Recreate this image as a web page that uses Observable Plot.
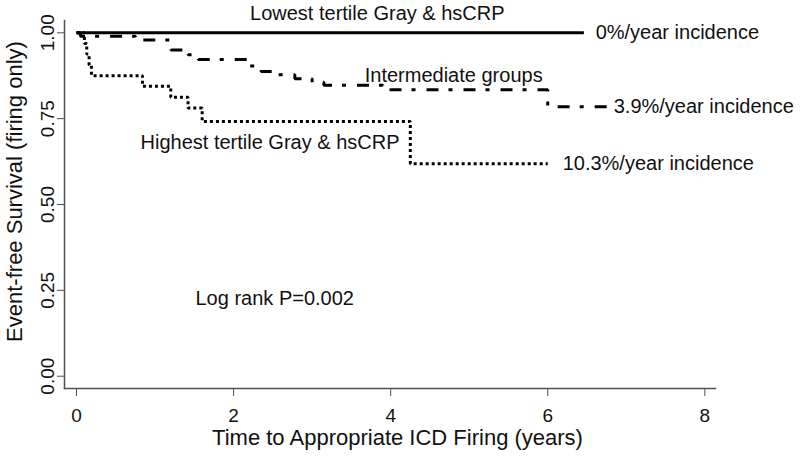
<!DOCTYPE html>
<html>
<head>
<meta charset="utf-8">
<script src="https://cdn.jsdelivr.net/npm/d3@7"></script>
<script src="https://cdn.jsdelivr.net/npm/@observablehq/plot@0.6"></script>
<style>
  html, body { margin: 0; padding: 0; background: #fff; }
  #chart svg { display: block; }
</style>
</head>
<body>
<div id="chart"></div>
<script>
// ---- Data ----
const groups = ["Lowest tertile", "Intermediate", "Highest tertile"];

const lowTime = [0, 6.46];
const lowSurv = [1, 1];

const midTime = [0, 0.05, 0.75, 1.2, 1.42, 1.55, 2.2, 2.35, 2.52, 2.78, 3.0, 3.15, 3.9, 6.0, 6.79];
const midSurv = [1, 0.99, 0.979, 0.95, 0.936, 0.922, 0.903, 0.887, 0.878, 0.866, 0.856, 0.847, 0.834, 0.785, 0.785];

const highTime = [0, 0.10, 0.13, 0.16, 0.19, 0.84, 1.20, 1.42, 1.60, 4.25, 6.0];
const highSurv = [1, 0.969, 0.938, 0.906, 0.875, 0.844, 0.812, 0.781, 0.742, 0.619, 0.619];

const xTicks = [0, 2, 4, 6, 8];
const yTicks = [0, 0.25, 0.5, 0.75, 1];

const annoText = [
  "Lowest tertile Gray & hsCRP",
  "0%/year incidence",
  "Intermediate groups",
  "3.9%/year incidence",
  "Highest tertile Gray & hsCRP",
  "10.3%/year incidence",
  "Log rank P=0.002"
];
const annoTime = [3.83, 6.61, 3.67, 6.84, 0.815, 6.19, 1.515];
const annoSurv = [1.056, 1.0, 0.876, 0.785, 0.68, 0.619, 0.227];
const annoAlign = ["middle", "start", "start", "start", "start", "start", "start"];

const xTitle = "Time to Appropriate ICD Firing (years)";
const yTitle = "Event-free Survival (firing only)";

// ---- Tables ----
const toRows = (g, T, S) => T.map((t, i) => ({group: g, t, s: S[i]}));
const low = toRows(groups[0], lowTime, lowSurv);
const mid = toRows(groups[1], midTime, midSurv);
const high = toRows(groups[2], highTime, highSurv);
const annos = annoText.map((text, i) => ({text, t: annoTime[i], s: annoSurv[i], a: annoAlign[i]}));

const axisGray = "#505050";
const ink = "#111";

const chart = Plot.plot({
  width: 800,
  height: 456,
  marginLeft: 64,
  marginRight: 85,
  marginTop: 20,
  marginBottom: 68,
  style: {fontFamily: "'Liberation Sans', Arial, sans-serif", fontSize: "19px", color: ink, background: "#fff"},
  x: {domain: [-0.153, 8.136]},
  y: {domain: [-0.0358, 1.0358]},
  marks: [
    Plot.frame({anchor: "left", stroke: axisGray, strokeWidth: 1.5}),
    Plot.frame({anchor: "bottom", stroke: axisGray, strokeWidth: 1.5}),
    Plot.axisX({ticks: xTicks, tickSize: 8, tickPadding: 12, stroke: axisGray, fill: ink, label: null, fontSize: 19}),
    Plot.axisY({ticks: yTicks, tickSize: 7, tickPadding: 4, tickRotate: -90, tickFormat: d3.format(".2f"), stroke: axisGray, fill: ink, label: null, fontSize: 19}),
    Plot.line(low, {x: "t", y: "s", curve: "step-after", stroke: "#000", strokeWidth: 3, strokeLinecap: "butt"}),
    Plot.line(mid, {x: "t", y: "s", curve: "step-after", stroke: "#000", strokeWidth: 3, strokeLinecap: "butt", strokeLinejoin: "miter", strokeDasharray: "12,10,4,11"}),
    Plot.line(high, {x: "t", y: "s", curve: "step-after", stroke: "#000", strokeWidth: 3, strokeLinecap: "butt", strokeLinejoin: "miter", strokeDasharray: "3,3"}),
    Plot.text(annos.filter(d => d.a === "middle"), {x: "t", y: "s", text: "text", textAnchor: "middle", fontSize: 20, fill: ink}),
    Plot.text(annos.filter(d => d.a === "start"), {x: "t", y: "s", text: "text", textAnchor: "start", fontSize: 20, fill: ink}),
    Plot.text([xTitle], {frameAnchor: "bottom", text: d => d, textAnchor: "middle", lineAnchor: "middle", dx: 7.5, dy: 49, fontSize: 22, fill: ink}),
    Plot.text([yTitle], {frameAnchor: "left", text: d => d, textAnchor: "middle", lineAnchor: "middle", rotate: -90, dx: -50, dy: -13, fontSize: 22, fill: ink})
  ]
});
document.getElementById("chart").appendChild(chart);
</script>
</body>
</html>
